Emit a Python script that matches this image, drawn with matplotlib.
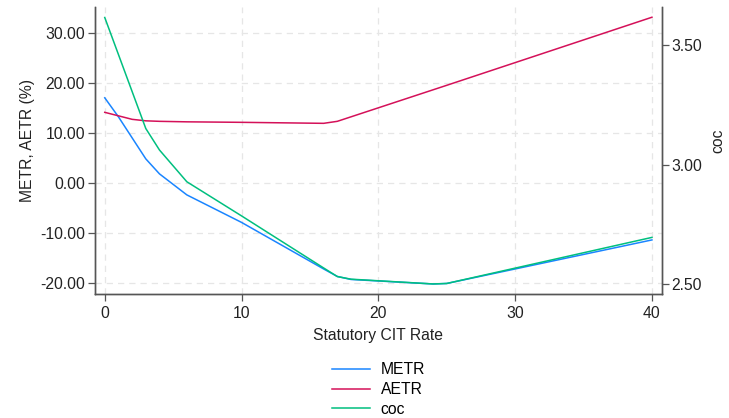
import matplotlib.pyplot as plt
from matplotlib.lines import Line2D

plt.rcParams['font.family'] = ['Liberation Sans', 'DejaVu Sans']

# data
rate = [0, 1, 2, 3, 4, 6, 10, 16, 17, 18, 24, 25, 40]
metr = [17.0, 13.2, 9.0, 4.8, 1.8, -2.4, -7.9, -17.2, -18.7, -19.3, -20.2, -20.1, -11.4]
aetr = [14.1, 13.4, 12.7, 12.4, 12.3, 12.2, 12.1, 11.9, 12.3, 13.2, 18.6, 19.5, 33.1]
coc = [3.616, 3.461, 3.306, 3.151, 3.061, 2.928, 2.785, 2.567, 2.531, 2.520, 2.500, 2.502, 2.695]

c_metr = '#1a85ff'
c_aetr = '#d41159'
c_coc = '#00bf7f'
fs = 11.3
spine_c = '#555555'

fig = plt.figure(figsize=(7.29, 4.18), dpi=100)
ax = fig.add_axes([0.130, 0.2967, 0.778, 0.686])
ax2 = ax.twinx()

ax.plot(rate, metr, color=c_metr, lw=1.1)
ax.plot(rate, aetr, color=c_aetr, lw=1.1)
ax2.plot(rate, coc, color=c_coc, lw=1.1)

ax.set_xlim(-0.73, 40.73)
ax.set_ylim(-22.2, 35.1)
ax2.set_ylim(2.458, 3.659)

ax.set_xticks([0, 10, 20, 30, 40])
ax.set_yticks([-20, -10, 0, 10, 20, 30])
ax.set_yticklabels(['%.2f' % v for v in [-20, -10, 0, 10, 20, 30]])
ax2.set_yticks([2.5, 3.0, 3.5])
ax2.set_yticklabels(['2.50', '3.00', '3.50'])

ax.grid(True, color='#e6e6e6', linestyle=(0, (5, 4)), lw=0.9)
ax.set_axisbelow(True)

for a in (ax, ax2):
    a.spines['top'].set_visible(False)
    for s in ('left', 'right', 'bottom'):
        a.spines[s].set_color(spine_c)
        a.spines[s].set_linewidth(1.0)
    a.tick_params(labelsize=fs, colors='#222222', length=5, width=0.9)
    a.tick_params(axis='both', color=spine_c)
ax.tick_params(axis='y', pad=2)
ax2.tick_params(axis='y', pad=2)

ax.set_xlabel('Statutory CIT Rate', fontsize=fs, color='#222222', labelpad=5)
ax.set_ylabel('METR, AETR (%)', fontsize=fs, color='#222222')
ax.yaxis.set_label_coords(-0.105, 0.535)
ax2.set_ylabel('coc', fontsize=fs, color='#222222')
ax2.yaxis.set_label_coords(1.085, 0.535)

handles = [Line2D([], [], color=c_metr, lw=1.1),
           Line2D([], [], color=c_aetr, lw=1.1),
           Line2D([], [], color=c_coc, lw=1.1)]
fig.legend(handles, ['METR', 'AETR', 'coc'], loc='upper center',
           bbox_to_anchor=(0.519, 0.148), frameon=False, fontsize=fs,
           handlelength=2.4, handletextpad=0.7, labelspacing=0.3, borderaxespad=0)

fig.savefig('out.png', dpi=100)
